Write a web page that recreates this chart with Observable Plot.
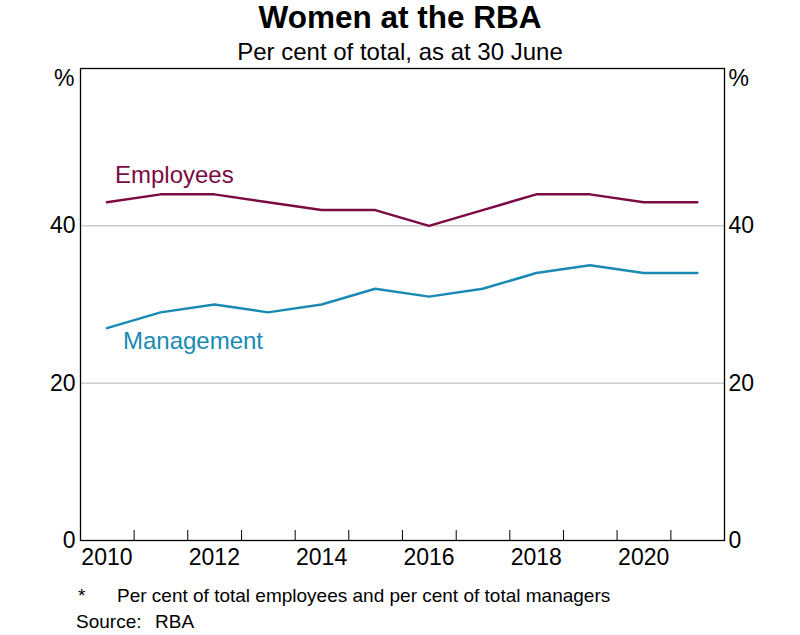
<!DOCTYPE html>
<html>
<head>
<meta charset="utf-8">
<script src="https://cdn.jsdelivr.net/npm/d3@7"></script>
<script src="https://cdn.jsdelivr.net/npm/@observablehq/plot@0.6"></script>
<style>
  html, body { margin: 0; padding: 0; background: white; }
  body { width: 800px; height: 635px; font-family: "Liberation Sans", Arial, sans-serif; color: black; overflow: hidden; }
  #title { text-align: center; font-weight: bold; font-size: 31.5px; line-height: 34px; height: 34px; }
  #subtitle { text-align: center; font-size: 24px; line-height: 28px; height: 28px; margin-top: 4px; }
  #chart svg { display: block; }
  .foot { font-size: 19px; line-height: 26px; white-space: nowrap; position: relative; height: 26px; }
  .foot span { position: absolute; }
</style>
</head>
<body>
<div id="title">Women at the RBA</div>
<div id="subtitle">Per cent of total, as at 30 June</div>
<div id="chart"></div>
<div id="notes" style="margin-top:11px">
  <div class="foot"><span style="left:78px">*</span><span style="left:117px">Per cent of total employees and per cent of total managers</span></div>
  <div class="foot"><span style="left:76px">Source:</span><span style="left:155px">RBA</span></div>
</div>
<script>
// ---- data ----
const years = [2010, 2011, 2012, 2013, 2014, 2015, 2016, 2017, 2018, 2019, 2020, 2021];
const employees = [43, 44, 44, 43, 42, 42, 40, 42, 44, 44, 43, 43];
const management = [27, 29, 30, 29, 30, 32, 31, 32, 34, 35, 34, 34];
const seriesNames = ["Employees", "Management"];
const seriesColors = ["#7c0a45", "#1a8ab4"];
const yTicks = [0, 20, 40];
const yGrid = [20, 40];
const xLabelYears = [2010, 2012, 2014, 2016, 2018, 2020];
const xDomainYears = [2010, 2022];

// ---- derived ----
const asAtJune = y => new Date(Date.UTC(y, 5, 30));
const rows = [];
years.forEach((yr, i) => {
  rows.push({series: seriesNames[0], date: asAtJune(yr), value: employees[i]});
  rows.push({series: seriesNames[1], date: asAtJune(yr), value: management[i]});
});
const yearStarts = d3.range(xDomainYears[0] + 1, xDomainYears[1]).map(y => new Date(Date.UTC(y, 0, 1)));
const labelDates = xLabelYears.map(asAtJune);

const W = 800, H = 506, MT = 2, MB = 32, ML = 80, MR = 76;
const tickLen = 10;

const firstOf = name => rows.filter(d => d.series === name).slice(0, 1);

const chart = Plot.plot({
  width: W,
  height: H,
  marginTop: MT,
  marginBottom: MB,
  marginLeft: ML,
  marginRight: MR,
  style: {fontFamily: '"Liberation Sans", Arial, sans-serif', fontSize: "23px", color: "black", background: "white", overflow: "visible"},
  x: {type: "utc", domain: xDomainYears.map(y => new Date(Date.UTC(y, 0, 1))), label: null},
  y: {domain: [0, 60], label: null},
  color: {domain: seriesNames, range: seriesColors},
  marks: [
    Plot.ruleY(yGrid, {stroke: "#b3b3b3", strokeWidth: 1}),
    Plot.line(rows, {x: "date", y: "value", z: "series", stroke: "series", strokeWidth: 2.5}),
    Plot.text(firstOf(seriesNames[0]), {x: "date", y: "value", text: "series", fill: "series", textAnchor: "start", dx: 8, dy: -27, fontSize: 24}),
    Plot.text(firstOf(seriesNames[1]), {x: "date", y: "value", text: "series", fill: "series", textAnchor: "start", dx: 16, dy: 13, fontSize: 24}),
    Plot.ruleX(yearStarts, {x: d => d, insetTop: H - MT - MB - tickLen, stroke: "black", strokeWidth: 1}),
    Plot.frame({stroke: "black", strokeWidth: 1.3}),
    Plot.axisX(labelDates, {anchor: "bottom", tickSize: 0, tickPadding: 8, tickFormat: d => String(d.getUTCFullYear()), label: null, fill: "black"}),
    Plot.axisY(yTicks, {anchor: "left", tickSize: 0, tickPadding: 5, label: null, fill: "black"}),
    Plot.axisY(yTicks, {anchor: "right", tickSize: 0, tickPadding: 4, label: null, fill: "black"}),
    Plot.text(["%"], {frameAnchor: "top-left", text: d => d, textAnchor: "end", lineAnchor: "middle", dx: -6, dy: 10, fill: "black"}),
    Plot.text(["%"], {frameAnchor: "top-right", text: d => d, textAnchor: "start", lineAnchor: "middle", dx: 4, dy: 10, fill: "black"})
  ]
});
document.getElementById("chart").appendChild(chart);
</script>
</body>
</html>
